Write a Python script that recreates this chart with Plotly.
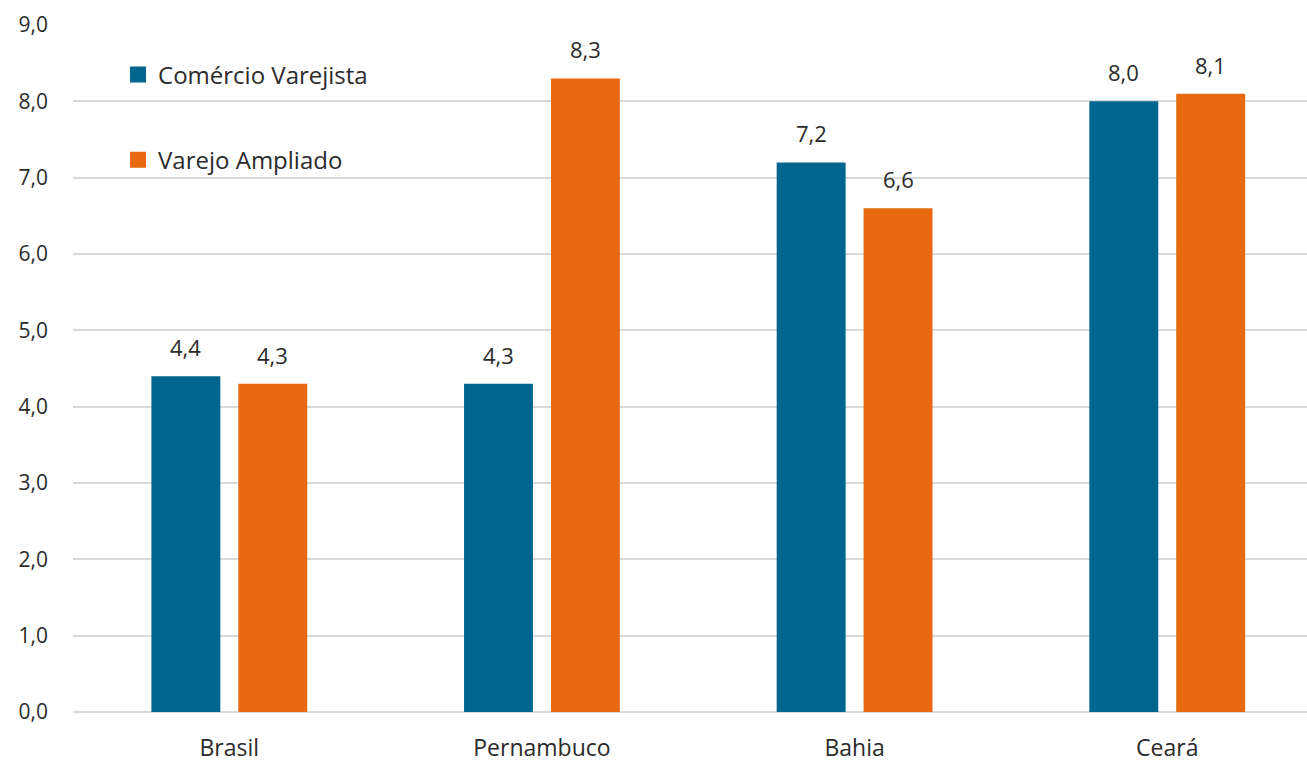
import plotly.graph_objects as go

categories = ["Brasil", "Pernambuco", "Bahia", "Ceará"]
comercio_varejista = [4.4, 4.3, 7.2, 8.0]
varejo_ampliado = [4.3, 8.3, 6.6, 8.1]
series_names = ["Comércio Varejista", "Varejo Ampliado"]
series_colors = ["#01668F", "#E8690F"]

def fmt(v):
    return f"{v:.1f}".replace(".", ",")

font_family = "Open Sans, Noto Sans, DejaVu Sans, sans-serif"
txt_color = "#2B2B2B"

W, H = 1307, 763
ML, MR, MT, MB = 73, 0, 25, 51
x_range = [-0.5, 3.447]
bargap, bargroupgap = 0.444, 0.207

fig = go.Figure()
all_series = [comercio_varejista, varejo_ampliado]
for i, (name, vals, col) in enumerate(zip(series_names, all_series, series_colors)):
    fig.add_trace(go.Bar(
        name=name, x=categories, y=vals,
        marker=dict(color=col, line=dict(width=0)),
        showlegend=False, hoverinfo="x+y",
    ))
# legend-only square markers (larger than the default bar legend symbol)
for i, (name, col) in enumerate(zip(series_names, series_colors)):
    fig.add_trace(go.Scatter(
        name=name, x=[None], y=[None], mode="markers",
        marker=dict(symbol="square", size=17, color=col),
        legendgroup=f"g{i}", showlegend=True,
    ))

# data labels above bars (offset within each group computed from the bar layout)
cat_px = (W - ML - MR) / (x_range[1] - x_range[0])
slot_px = cat_px * (1 - bargap) / 2
for i, vals in enumerate(all_series):
    shift = (i - 0.5) * slot_px
    for c, v in zip(categories, vals):
        fig.add_annotation(
            x=c, y=v, text=fmt(v), showarrow=False,
            xshift=shift, yshift=29, yanchor="middle",
            font=dict(size=22, color=txt_color, family=font_family),
        )

fig.update_layout(
    width=W, height=H,
    margin=dict(l=ML, r=MR, t=MT, b=MB, autoexpand=False),
    paper_bgcolor="white", plot_bgcolor="white",
    separators=", ",
    barmode="group", bargap=bargap, bargroupgap=bargroupgap,
    font=dict(family=font_family, size=22, color=txt_color),
    showlegend=True,
    legend=dict(
        x=0.0365, y=0.96, xanchor="left", yanchor="top",
        bgcolor="rgba(0,0,0,0)", tracegroupgap=51,
        font=dict(size=24, color=txt_color, family=font_family),
    ),
    xaxis=dict(
        range=x_range, showgrid=False, showline=False, zeroline=False,
        ticks="", ticklabelstandoff=20, automargin=False,
        tickfont=dict(size=23, color=txt_color, family=font_family),
    ),
    yaxis=dict(
        range=[0, 9], dtick=1, tickformat=".1f",
        showgrid=True, gridcolor="#D9D9D9", gridwidth=2,
        zeroline=True, zerolinecolor="#D9D9D9", zerolinewidth=2,
        showline=False, ticks="", ticklabelstandoff=24, automargin=False,
        tickfont=dict(size=21, color=txt_color, family=font_family),
    ),
)

fig.write_html("out.html")
